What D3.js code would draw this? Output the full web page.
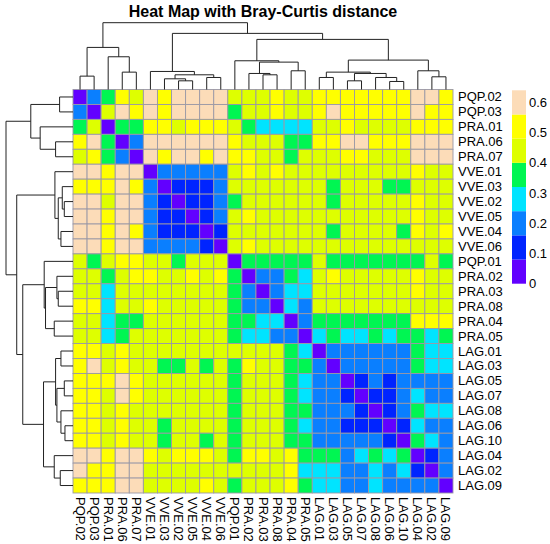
<!DOCTYPE html>
<html><head><meta charset="utf-8">
<script src="https://cdn.jsdelivr.net/npm/d3@7"></script>
<style>
body{margin:0;background:#fff}
svg{display:block}
text{font-family:"Liberation Sans",Arial,Helvetica,sans-serif;fill:#000}
</style>
</head><body>
<svg id="chart" width="550" height="544"></svg>
<script>
// ---- data ----
const labels = ["PQP.02","PQP.03","PRA.01","PRA.06","PRA.07","VVE.01","VVE.03","VVE.02","VVE.05","VVE.04","VVE.06","PQP.01","PRA.02","PRA.03","PRA.08","PRA.04","PRA.05","LAG.01","LAG.03","LAG.05","LAG.07","LAG.08","LAG.06","LAG.10","LAG.04","LAG.02","LAG.09"];

// Bray-Curtis distances, lower triangle (row i holds columns 0..i-1)
const lowerTriangle = [
  [],
  [0.20],
  [0.36,0.44],
  [0.52,0.60,0.36],
  [0.44,0.52,0.36,0.20],
  [0.60,0.60,0.52,0.60,0.60],
  [0.52,0.52,0.52,0.60,0.52,0.20],
  [0.60,0.60,0.44,0.60,0.60,0.20,0.12],
  [0.60,0.60,0.52,0.60,0.60,0.20,0.12,0.12],
  [0.60,0.60,0.52,0.60,0.52,0.20,0.12,0.12,0.12],
  [0.60,0.60,0.52,0.60,0.60,0.20,0.20,0.20,0.20,0.12],
  [0.44,0.36,0.44,0.52,0.52,0.44,0.44,0.36,0.44,0.44,0.44],
  [0.44,0.44,0.36,0.44,0.52,0.52,0.44,0.44,0.52,0.44,0.52,0.36],
  [0.44,0.44,0.28,0.44,0.44,0.44,0.44,0.44,0.44,0.44,0.44,0.36,0.20],
  [0.52,0.52,0.28,0.44,0.44,0.52,0.44,0.44,0.44,0.44,0.44,0.36,0.20,0.20],
  [0.44,0.44,0.28,0.36,0.36,0.44,0.44,0.44,0.44,0.44,0.44,0.36,0.36,0.28,0.28],
  [0.44,0.44,0.28,0.36,0.44,0.44,0.44,0.44,0.44,0.44,0.44,0.36,0.28,0.28,0.20,0.20],
  [0.52,0.52,0.44,0.52,0.44,0.44,0.44,0.44,0.44,0.44,0.44,0.44,0.44,0.44,0.44,0.36,0.28],
  [0.52,0.60,0.44,0.52,0.44,0.44,0.36,0.36,0.44,0.36,0.44,0.36,0.52,0.44,0.44,0.36,0.36,0.20],
  [0.52,0.52,0.52,0.60,0.52,0.44,0.44,0.44,0.44,0.44,0.44,0.36,0.44,0.44,0.44,0.36,0.28,0.20,0.20],
  [0.52,0.52,0.44,0.60,0.52,0.44,0.44,0.44,0.44,0.44,0.44,0.36,0.44,0.44,0.44,0.36,0.28,0.20,0.20,0.12],
  [0.52,0.52,0.44,0.52,0.44,0.44,0.44,0.44,0.44,0.44,0.44,0.36,0.44,0.44,0.44,0.36,0.36,0.20,0.20,0.20,0.12],
  [0.52,0.52,0.44,0.52,0.44,0.44,0.36,0.44,0.44,0.44,0.44,0.36,0.44,0.44,0.44,0.36,0.28,0.20,0.20,0.12,0.12,0.12],
  [0.52,0.52,0.44,0.52,0.44,0.44,0.36,0.44,0.44,0.36,0.44,0.36,0.44,0.44,0.44,0.36,0.36,0.20,0.20,0.20,0.20,0.20,0.12],
  [0.60,0.60,0.52,0.60,0.60,0.52,0.44,0.52,0.52,0.52,0.44,0.36,0.52,0.52,0.44,0.52,0.36,0.36,0.36,0.20,0.28,0.36,0.28,0.36],
  [0.60,0.52,0.52,0.60,0.60,0.44,0.44,0.44,0.44,0.44,0.44,0.44,0.44,0.44,0.44,0.52,0.28,0.28,0.28,0.20,0.20,0.28,0.20,0.28,0.12],
  [0.52,0.52,0.52,0.60,0.60,0.44,0.44,0.44,0.44,0.52,0.44,0.36,0.44,0.44,0.44,0.52,0.36,0.28,0.28,0.20,0.20,0.28,0.20,0.20,0.20,0.20]
];

// hierarchical clustering merges: [childA, childB, height]; numbers refer to earlier merges
const merges = [
  ["PQP.02","PQP.03",0.20],   //0
  ["PRA.06","PRA.07",0.26],   //1
  ["PRA.01",1,0.49],          //2
  [0,2,0.63],                 //3
  ["VVE.02","VVE.05",0.13],   //4
  ["VVE.03",4,0.16],          //5
  ["VVE.04","VVE.06",0.18],   //6
  [5,6,0.22],                 //7
  ["VVE.01",7,0.27],          //8
  ["PRA.03","PRA.08",0.22],   //9
  ["PRA.02",9,0.24],          //10
  ["PRA.04","PRA.05",0.28],   //11
  [10,11,0.41],               //12
  ["PQP.01",12,0.43],         //13
  ["LAG.01","LAG.03",0.18],   //14
  ["LAG.05","LAG.07",0.13],   //15
  ["LAG.06","LAG.10",0.12],   //16
  ["LAG.08",16,0.18],         //17
  [15,17,0.24],               //18
  [14,18,0.26],               //19
  ["LAG.02","LAG.09",0.19],   //20
  ["LAG.04",20,0.28],         //21
  [19,21,0.44],               //22
  [13,22,0.75],               //23
  [8,23,0.84],                //24
  [3,24,1.00]                 //25
];

const legendTicks = [0,0.1,0.2,0.3,0.4,0.5,0.6];
const colorBreaks = [0,0.08,0.16,0.24,0.32,0.40,0.48,0.56,0.64];
const palette = ["#6200ff","#0024ff","#0a7fff","#00e4ff","#00f652","#deff00","#ffff00","#fcdcb8"];
const title = "Heat Map with Bray-Curtis distance";

// ---- drawing ----
const svg = d3.select("#chart");
const L = 73, R = 453, T = 89.5, B = 493;
const n = labels.length;

const x = d3.scaleBand().domain(labels).range([L, R]);
const y = d3.scaleBand().domain(labels).range([T, B]);
const color = d3.scaleThreshold().domain(colorBreaks.slice(1, -1)).range(palette);

const cells = [];
for (let i = 0; i < n; i++) {
  for (let j = 0; j < n; j++) {
    let v;
    if (i === j) v = 0;
    else if (j < i) v = lowerTriangle[i][j];
    else v = lowerTriangle[j][i];
    cells.push({row: labels[i], col: labels[j], v});
  }
}

svg.append("g").selectAll("rect").data(cells).join("rect")
  .attr("x", d => x(d.col)).attr("y", d => y(d.row))
  .attr("width", x.bandwidth()).attr("height", y.bandwidth())
  .attr("fill", d => color(d.v))
  .attr("stroke", "#9a98a6").attr("stroke-width", 0.9);

// dendrograms
const maxH = d3.max(merges, m => m[2]);
const nodes = merges.map(() => null);
function info(c, pos) {
  if (typeof c === "string") return {p: pos(c) + pos.bandwidth() / 2, h: 0};
  return nodes[c];
}
function buildTree(pos) {
  const segs = [];
  merges.forEach((m, k) => {
    const a = info(m[0], pos), b = info(m[1], pos);
    nodes[k] = {p: (a.p + b.p) / 2, h: m[2]};
    segs.push({a, b, h: m[2]});
  });
  return segs;
}
const hTop = d3.scaleLinear().domain([0, maxH]).range([T, 22.7]);
const hLeft = d3.scaleLinear().domain([0, maxH]).range([L, 6]);

const topSegs = buildTree(x);
svg.append("g").selectAll("path").data(topSegs).join("path")
  .attr("d", s => `M${s.a.p},${hTop(s.a.h)}V${hTop(s.h)}H${s.b.p}V${hTop(s.b.h)}`)
  .attr("fill", "none").attr("stroke", "#222").attr("stroke-width", 1);

const leftSegs = buildTree(y);
svg.append("g").selectAll("path").data(leftSegs).join("path")
  .attr("d", s => `M${hLeft(s.a.h)},${s.a.p}H${hLeft(s.h)}V${s.b.p}H${hLeft(s.b.h)}`)
  .attr("fill", "none").attr("stroke", "#222").attr("stroke-width", 1);

// row labels
svg.append("g").selectAll("text").data(labels).join("text")
  .attr("x", R + 5).attr("y", d => y(d) + y.bandwidth() / 2)
  .attr("dominant-baseline", "central")
  .style("font-size", "13px").text(d => d);

// column labels
svg.append("g").selectAll("text").data(labels).join("text")
  .attr("transform", d => `translate(${x(d) + x.bandwidth() / 2},${B + 4}) rotate(90)`)
  .attr("dominant-baseline", "central")
  .style("font-size", "13px").text(d => d);

// title
svg.append("text").attr("x", (L + R) / 2).attr("y", 17)
  .attr("text-anchor", "middle").style("font-size", "16px").style("font-weight", "bold")
  .text(title);

// legend
const ly = d3.scaleLinear().domain([0, 0.64]).range([283.7, 90.3]);
const lg = svg.append("g");
lg.selectAll("rect").data(palette).join("rect")
  .attr("x", 512).attr("width", 14)
  .attr("y", (c, i) => ly(colorBreaks[i + 1]))
  .attr("height", (c, i) => ly(colorBreaks[i]) - ly(colorBreaks[i + 1]))
  .attr("fill", c => c);
lg.selectAll("text").data(legendTicks).join("text")
  .attr("x", 529).attr("y", d => ly(d))
  .attr("dominant-baseline", "central")
  .style("font-size", "13px").text(d => d);
</script>
</body></html>
